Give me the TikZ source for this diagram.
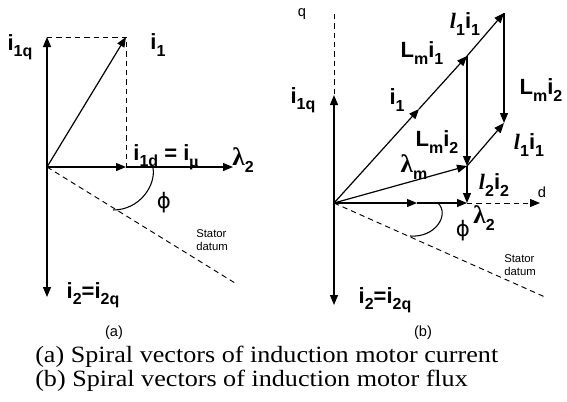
\documentclass[tikz,border=0pt]{standalone}
\usepackage{fontspec}
\setmainfont{Liberation Serif}
\setsansfont{Liberation Sans}
\newfontfamily\grk{Liberation Serif}
\newfontfamily\phifont{DejaVu Sans}
\usepackage{tikz}
\usetikzlibrary{arrows.meta}
\newcommand{\sbs}[1]{\raisebox{-0.55ex}{\fontsize{12}{12}\selectfont #1}}
\newcommand{\lsym}{{\rmfamily\bfseries\itshape l}}
\newcommand{\lam}{{\grk\fontsize{19}{19}\selectfont λ}}
\newcommand{\phisym}{{\phifont\mdseries\fontsize{16}{16}\selectfont ϕ}}

\begin{document}
\begin{tikzpicture}[x=0.75pt,y=-0.75pt,
        vec/.style={line width=0.9pt,-{Triangle[length=7.5pt,width=6pt]}},
        guide/.style={line width=0.7pt,dash pattern=on 4pt off 3pt},
        lbl/.style={font=\sffamily\bfseries\fontsize{16.5}{16.5}\selectfont,inner sep=0pt},
        small/.style={font=\sffamily\fontsize{8.5}{9.5}\selectfont,align=left,inner sep=0pt},
        tag/.style={font=\sffamily\fontsize{11}{11}\selectfont,inner sep=0pt},
        caption/.style={anchor=west,inner sep=0pt,font=\fontsize{17.5}{17.5}\selectfont}]
    \useasboundingbox (0,0) rectangle (567,401);

        % Current diagram
        \begin{scope}[shift={(47,167)}]
            \coordinate (oa) at (0,0);
            \coordinate (qa) at (0,-130);
            \coordinate (ia) at (79,-130);
            \coordinate (da) at (79,0);
            \coordinate (la) at (186,0);
            \coordinate (ba) at (0,130);
            \coordinate (sa) at (188,116);
            \coordinate (pa1) at (106,1);
            \coordinate (pa2) at (66,43);

            \draw[guide] (qa) -- (ia) -- (da);
            \draw[guide] (oa) -- (sa);
            \draw[vec] (oa) -- (qa);
            \draw[vec] (oa) -- (ba);
            \draw[vec] (oa) -- (ia);
            \draw[vec] (oa) -- (da);
            \draw[vec] (da) -- (la);
            \draw[line width=0.8pt] (pa1) .. controls (109,18) and (93,43) .. (pa2);

            \node[lbl] (i1qa) at (-27,-120) {i\sbs{1q}};
            \node[lbl] (i1a) at (111,-122) {i\sbs{1}};
            \node[lbl] (i1da) at (119,-10) {i\sbs{1d} = i\sbs{\grk μ}};
            \node[lbl] (lam2a) at (196,-7) {\lam\sbs{2}};
            \node[lbl] (phia) at (117,36) {\phisym};
            \node[small] (stata) at (165,73) {Stator\\datum};
            \node[lbl] (i2a) at (46,128) {i\sbs{2}=i\sbs{2q}};
            \node[tag] (capa) at (67,166) {(a)};
        \end{scope}

        % Flux diagram
        \begin{scope}[shift={(334,203)}]
            \coordinate (ob) at (0,0);
            \coordinate (qtop) at (0,-189);
            \coordinate (qb) at (0,-108);
            \coordinate (bb) at (0,102);
            \coordinate (ib) at (85,-94);
            \coordinate (lmb) at (133,-147);
            \coordinate (topb) at (170,-190);
            \coordinate (rgtb) at (170,-80);
            \coordinate (mb) at (133,-37);
            \coordinate (lamb) at (133,0);
            \coordinate (midb) at (83,0);
            \coordinate (db) at (206,0);
            \coordinate (sb) at (211,94);
            \coordinate (pb1) at (104,0);
            \coordinate (pb2) at (76,33);

            \draw[guide] (qtop) -- (qb);
            \draw[guide] (ob) -- (sb);
            \draw[guide,-{Triangle[length=7.5pt,width=6pt]}] (lamb) -- (db);
            \draw[vec] (ob) -- (qb);
            \draw[vec] (ob) -- (bb);
            \draw[vec] (ob) -- (ib);
            \draw[vec] (ib) -- (lmb);
            \draw[vec] (lmb) -- (topb);
            \draw[vec] (topb) -- (rgtb);
            \draw[vec] (lmb) -- (mb);
            \draw[vec] (mb) -- (rgtb);
            \draw[vec] (mb) -- (lamb);
            \draw[vec] (ob) -- (mb);
            \draw[vec] (ob) -- (midb);
            \draw[vec] (midb) -- (lamb);
            \draw[line width=0.8pt] (pb1) .. controls (116,12) and (101,35) .. (pb2);

            \node[tag] (qlbl) at (-32,-189) {q};
            \node[lbl] (i1qb) at (-31,-103) {i\sbs{1q}};
            \node[lbl] (l1i1t) at (131,-179) {\lsym\sbs{1}i\sbs{1}};
            \node[lbl] (lmi1) at (88,-150) {L\sbs{m}i\sbs{1}};
            \node[lbl] (lmi2r) at (207,-113) {L\sbs{m}i\sbs{2}};
            \node[lbl] (i1b) at (63,-103) {i\sbs{1}};
            \node[lbl] (lmi2m) at (103,-61) {L\sbs{m}i\sbs{2}};
            \node[lbl] (l1i1l) at (195,-58) {\lsym\sbs{1}i\sbs{1}};
            \node[lbl] (lamm) at (80,-36) {\lam\sbs{m}};
            \node[lbl] (l2i2) at (160,-18) {\lsym\sbs{2}i\sbs{2}};
            \node[tag] (dlbl) at (208,-11) {d};
            \node[lbl] (lam2b) at (150,15) {\lam\sbs{2}};
            \node[lbl] (phib) at (129,28) {\phisym};
            \node[small] (statb) at (186,62) {Stator\\datum};
            \node[lbl] (i2b) at (51,97) {i\sbs{2}=i\sbs{2q}};
            \node[tag] (capb) at (89,130) {(b)};
        \end{scope}

        \node[caption] (cap1) at (35,357) {\scalebox{1.12}[1]{(a) Spiral vectors of induction motor current}};
        \node[caption] (cap2) at (35,381) {\scalebox{1.12}[1]{(b) Spiral vectors of induction motor flux}};
    \end{tikzpicture}
\end{document}
